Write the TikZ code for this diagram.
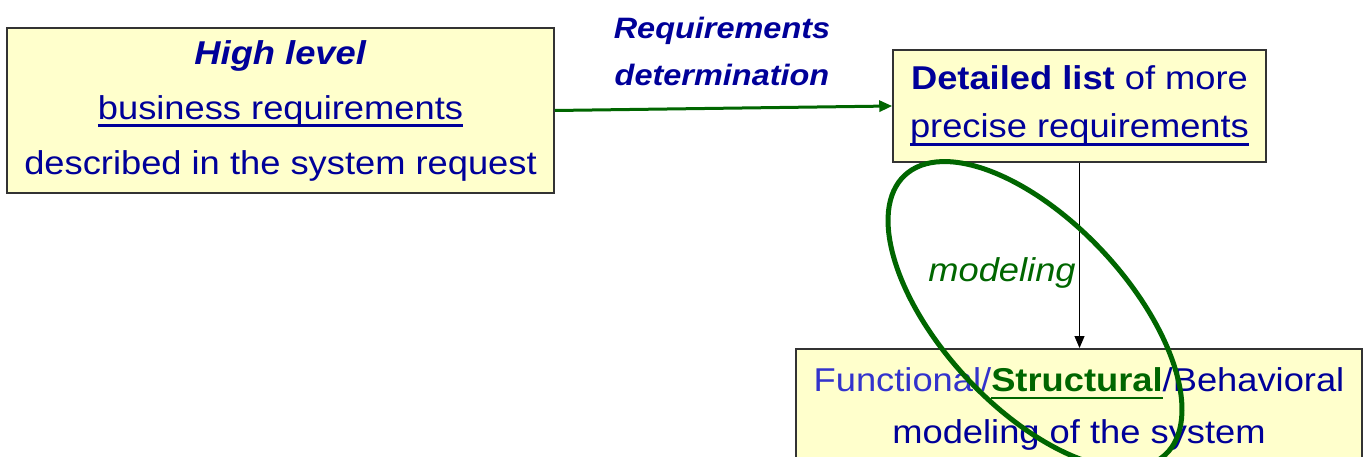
\documentclass[tikz,border=0pt]{standalone}
\usepackage{fontspec}
\setmainfont{Liberation Sans}[FakeStretch=1.1]
\usetikzlibrary{arrows.meta}
\definecolor{navy}{RGB}{0,0,153}
\definecolor{funblue}{RGB}{51,51,204}
\definecolor{grn}{RGB}{0,102,0}
\definecolor{paper}{RGB}{255,255,204}
\definecolor{edge}{RGB}{51,51,51}
% underline at a fixed depth below the baseline, in the current colour
\newcommand\ulin[1]{\setbox0=\hbox{#1}\rlap{\rule[-0.24em]{\wd0}{0.075em}}\box0}
\begin{document}
\begin{tikzpicture}[x=1pt,y=1pt,
  box/.style={draw=edge,line width=1.5pt,fill=paper,text=navy,align=center,inner sep=0pt},
  flow/.style={draw=grn,line width=3pt,-{Triangle[length=13pt,width=11pt]}},
  thin/.style={draw=black,line width=1pt,-{Triangle[length=12pt,width=10pt]}}]
\useasboundingbox (0,0) rectangle (1363,456);
\clip (0,0) rectangle (1363,456);

\node[box,minimum width=547pt,minimum height=165pt,font=\fontsize{33}{55}\selectfont]
  (hl) at (280.5,345.5)
  {\textbf{\textit{High level}}\\ \ulin{business requirements}\\ described in the system request};

\node[box,minimum width=373pt,minimum height=112pt,font=\fontsize{33}{48}\selectfont]
  (dl) at (1079.5,350)
  {\textbf{Detailed list} of more\\ \ulin{precise requirements}};

\node[box,minimum width=566pt,minimum height=120pt,anchor=north,font=\fontsize{33}{52}\selectfont]
  (fm) at (1079,108)
  {\textcolor{funblue}{Functional/}\textcolor{grn}{\ulin{\textbf{Structural}}}/Behavioral\\ modeling of the system};

\node[font=\fontsize{29.5}{47}\selectfont\bfseries\itshape,text=navy,align=center]
  (rd) at (722,405) {Requirements\\ determination};

\node[font=\fontsize{33}{40}\selectfont\itshape,text=grn] (mo) at (1002,183) {modeling};

\draw[flow] (hl.east) -- (dl.west);
\draw[thin] (dl.south) -- (dl.south |- fm.north);

% highlight ring around the modeling step
\coordinate (ring) at (1035,141);
\draw[grn,line width=5pt,rotate around={-47:(ring)}] (ring) ellipse [x radius=191, y radius=93];
\end{tikzpicture}
\end{document}
